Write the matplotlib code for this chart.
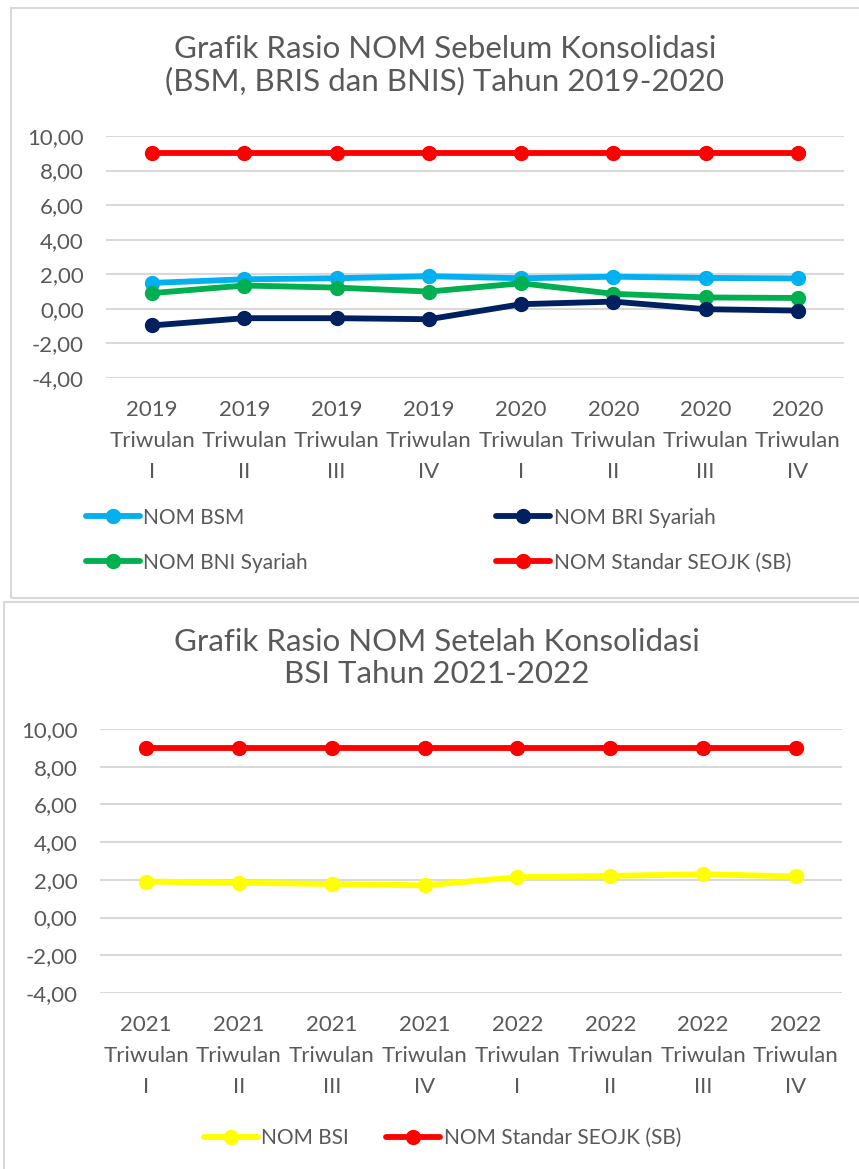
import matplotlib
matplotlib.use("Agg")
import matplotlib.pyplot as plt
from matplotlib.patches import Rectangle

plt.rcParams['font.family'] = ['Lato', 'DejaVu Sans']

# ---- data ----
cats_top = ["2019\nTriwulan\nI", "2019\nTriwulan\nII", "2019\nTriwulan\nIII", "2019\nTriwulan\nIV",
            "2020\nTriwulan\nI", "2020\nTriwulan\nII", "2020\nTriwulan\nIII", "2020\nTriwulan\nIV"]
nom_bsm = [1.50, 1.71, 1.77, 1.89, 1.77, 1.86, 1.79, 1.76]
nom_bris = [-0.96, -0.54, -0.54, -0.60, 0.27, 0.42, -0.02, -0.10]
nom_bnis = [0.91, 1.35, 1.23, 1.00, 1.48, 0.87, 0.66, 0.63]
nom_std_top = [9.00, 9.00, 9.00, 9.00, 9.00, 9.00, 9.00, 9.00]

cats_bot = ["2021\nTriwulan\nI", "2021\nTriwulan\nII", "2021\nTriwulan\nIII", "2021\nTriwulan\nIV",
            "2022\nTriwulan\nI", "2022\nTriwulan\nII", "2022\nTriwulan\nIII", "2022\nTriwulan\nIV"]
nom_bsi = [1.91, 1.85, 1.78, 1.71, 2.14, 2.21, 2.30, 2.18]
nom_std_bot = [9.00, 9.00, 9.00, 9.00, 9.00, 9.00, 9.00, 9.00]

yticks = [-4, -2, 0, 2, 4, 6, 8, 10]
ytick_labels = ["-4,00", "-2,00", "0,00", "2,00", "4,00", "6,00", "8,00", "10,00"]

W, H = 859, 1169
fig = plt.figure(figsize=(W / 100, H / 100), dpi=100)
fig.patch.set_facecolor("white")

TXT = "#595959"
GRID = "#d9d9d9"
TFS = 16
LFS = 15

def fr(x0, y0, x1, y1):
    return [x0 / W, 1 - y1 / H, (x1 - x0) / W, (y1 - y0) / H]

# panel borders
fig.patches.append(Rectangle((11 / W, 1 - 598 / H), (870 - 11) / W, (598 - 8) / H,
                             transform=fig.transFigure, fill=False, edgecolor=GRID, lw=1.5))
fig.patches.append(Rectangle((4 / W, 1 - 1180 / H), (870 - 4) / W, (1180 - 602) / H,
                             transform=fig.transFigure, fill=False, edgecolor=GRID, lw=1.5))

def setup(ax, cats):
    ax.set_ylim(-4, 10)
    ax.set_xlim(-0.5, len(cats) - 0.5)
    ax.set_yticks(yticks)
    ax.set_yticklabels(ytick_labels)
    ax.set_xticks(range(len(cats)))
    ax.set_xticklabels(cats, linespacing=1.68)
    ax.grid(axis="y", color=GRID, lw=1.5)
    ax.set_axisbelow(True)
    for s in ax.spines.values():
        s.set_visible(False)
    ax.tick_params(axis="both", length=0, colors=TXT, labelsize=TFS)
    ax.tick_params(axis="y", pad=16)
    ax.tick_params(axis="x", pad=16)

LW = 4.2
MS = 10

def plot(ax, x, y, color, label):
    return ax.plot(x, y, color=color, lw=LW, marker="o", ms=MS, label=label,
                   solid_capstyle="round")[0]

# ---- top chart ----
ax1 = fig.add_axes(fr(106, 136, 844, 378))
setup(ax1, cats_top)
x = list(range(len(cats_top)))
h1 = plot(ax1, x, nom_std_top, "#ff0000", "NOM Standar SEOJK (SB)")
h2 = plot(ax1, x, nom_bsm, "#00b0f0", "NOM BSM")
h3 = plot(ax1, x, nom_bnis, "#00b050", "NOM BNI Syariah")
h4 = plot(ax1, x, nom_bris, "#002060", "NOM BRI Syariah")
fig.text(445 / W, 1 - 65 / H, "Grafik Rasio NOM Sebelum Konsolidasi\n(BSM, BRIS dan BNIS) Tahun 2019-2020",
         ha="center", va="center", fontsize=22.5, color=TXT, linespacing=1.15)
fig.legend([h2, h3, h4, h1], ["NOM BSM", "NOM BNI Syariah", "NOM BRI Syariah", "NOM Standar SEOJK (SB)"],
           ncol=2, loc="center left", bbox_to_anchor=(67 / W, 1 - 540 / H), frameon=False,
           fontsize=LFS, labelcolor=TXT, handlelength=2.6, handletextpad=0.15,
           columnspacing=9.05, numpoints=1, labelspacing=1.2)

# ---- bottom chart ----
ax2 = fig.add_axes(fr(99.6, 729, 842.4, 993))
setup(ax2, cats_bot)
x2 = list(range(len(cats_bot)))
g1 = plot(ax2, x2, nom_std_bot, "#ff0000", "NOM Standar SEOJK (SB)")
g2 = plot(ax2, x2, nom_bsi, "#ffff00", "NOM BSI")
fig.text(437 / W, 1 - 658 / H, "Grafik Rasio NOM Setelah Konsolidasi\nBSI Tahun 2021-2022",
         ha="center", va="center", fontsize=22.5, color=TXT, linespacing=1.15)
fig.legend([g2, g1], ["NOM BSI", "NOM Standar SEOJK (SB)"],
           ncol=2, loc="center left", bbox_to_anchor=(185 / W, 1 - 1138 / H), frameon=False,
           fontsize=LFS, labelcolor=TXT, handlelength=2.6, handletextpad=0.15,
           columnspacing=1.8, numpoints=1)

fig.savefig("out.png", dpi=100, facecolor="white")
